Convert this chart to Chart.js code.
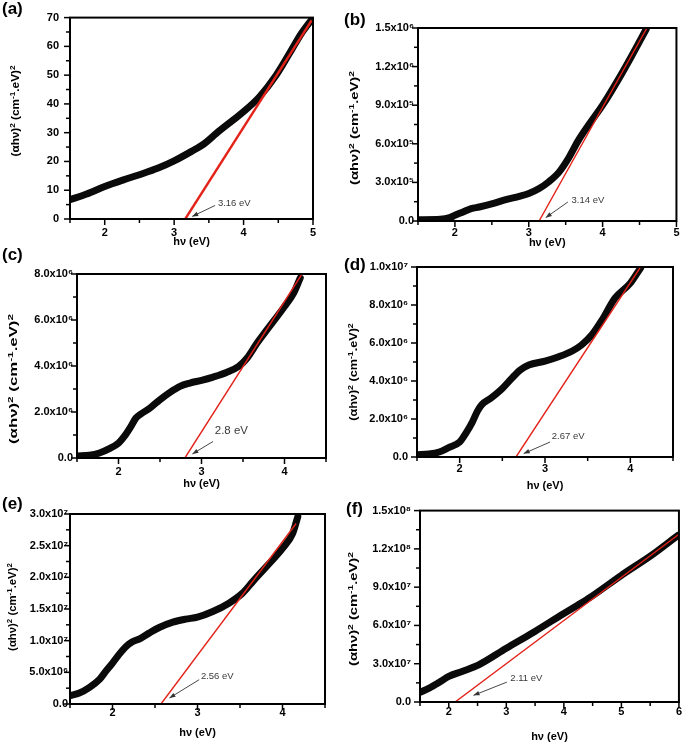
<!DOCTYPE html>
<html>
<head>
<meta charset="utf-8">
<script src="https://cdn.jsdelivr.net/npm/chart.js@4.4.0/dist/chart.umd.min.js"></script>
<style>
  html, body { margin: 0; padding: 0; background: #fff; }
  body { width: 685px; height: 742px; position: relative; overflow: hidden;
         font-family: "Liberation Sans", Arial, sans-serif; }
  canvas { position: absolute; }
  .letter { position: absolute; font-weight: bold; font-size: 17px; line-height: 17px; color: #000; }
  .ytitle { position: absolute; font-weight: bold; font-size: 10.5px; white-space: nowrap; color: #000; line-height: 12px; }
  .ytitle sup { font-size: 70%; vertical-align: 0.5em; line-height: 0; }
</style>
</head>
<body>
<canvas id="ca"></canvas><canvas id="cb"></canvas>
<canvas id="cc"></canvas><canvas id="cd"></canvas>
<canvas id="ce"></canvas><canvas id="cf"></canvas>
<script>
// ---------- DATA ----------
// (a)
const aCurveX = [1.5, 1.74, 2.0, 2.27, 2.5, 2.77, 3.0, 3.25, 3.44, 3.61, 3.85, 4.0, 4.23, 4.47, 4.66, 4.83, 4.99];
const aCurveY = [6.7, 8.7, 11.3, 13.6, 15.4, 17.7, 20.2, 23.5, 26.3, 29.8, 34.4, 37.3, 42.5, 50, 57.5, 64.4, 69.6];
const aFitX = [3.16, 4.98];
const aFitY = [0, 69];
const aXTicks = [2, 3, 4, 5];
const aXLabels = ['2', '3', '4', '5'];
const aYTicks = [0, 10, 20, 30, 40, 50, 60, 70];
const aYLabels = ['0', '10', '20', '30', '40', '50', '60', '70'];
const aGapText = '3.16 eV';

// (b)
const bCurveX = [1.5, 1.8, 1.93, 2.0, 2.11, 2.22, 2.33, 2.51, 2.69, 2.87, 3.0, 3.14, 3.27, 3.41, 3.54, 3.67, 3.81, 4.0, 4.21, 4.39, 4.59];
const bCurveY = [0.01e6, 0.013e6, 0.026e6, 0.044e6, 0.07e6, 0.096e6, 0.109e6, 0.135e6, 0.166e6, 0.192e6, 0.213e6, 0.252e6, 0.304e6, 0.38e6, 0.49e6, 0.625e6, 0.746e6, 0.90e6, 1.097e6, 1.279e6, 1.49e6];
const bFitX = [3.14, 4.60];
const bFitY = [0, 1.5e6];
const bXTicks = [2, 3, 4, 5];
const bXLabels = ['2', '3', '4', '5'];
const bYTicks = [0, 3e5, 6e5, 9e5, 1.2e6, 1.5e6];
const bYLabels = ['0.0', '3.0x10⁵', '6.0x10⁵', '9.0x10⁵', '1.2x10⁶', '1.5x10⁶'];
const bGapText = '3.14 eV';

// (c)
const cCurveX = [1.5, 1.65, 1.77, 1.89, 2.0, 2.07, 2.15, 2.21, 2.27, 2.38, 2.5, 2.62, 2.74, 2.86, 3.0, 3.14, 3.3, 3.45, 3.55, 3.67, 3.79, 4.0, 4.11, 4.19];
const cCurveY = [0.087e6, 0.116e6, 0.217e6, 0.406e6, 0.652e6, 0.94e6, 1.377e6, 1.739e6, 1.913e6, 2.174e6, 2.536e6, 2.855e6, 3.116e6, 3.26e6, 3.377e6, 3.52e6, 3.72e6, 3.99e6, 4.35e6, 5.0e6, 5.58e6, 6.59e6, 7.17e6, 7.83e6];
const cFitX = [2.8, 4.21];
const cFitY = [0, 8e6];
const cXTicks = [2, 3, 4];
const cXLabels = ['2', '3', '4'];
const cYTicks = [0, 2e6, 4e6, 6e6, 8e6];
const cYLabels = ['0.0', '2.0x10⁶', '4.0x10⁶', '6.0x10⁶', '8.0x10⁶'];
const cGapText = '2.8 eV';

// (d)
const dCurveX = [1.5, 1.64, 1.76, 1.87, 2.0, 2.07, 2.15, 2.21, 2.26, 2.36, 2.5, 2.61, 2.71, 2.81, 3.0, 3.16, 3.32, 3.43, 3.55, 3.67, 3.82, 4.0, 4.12];
const dCurveY = [0.123e6, 0.158e6, 0.264e6, 0.49e6, 0.79e6, 1.23e6, 1.85e6, 2.43e6, 2.76e6, 3.08e6, 3.61e6, 4.14e6, 4.58e6, 4.84e6, 5.05e6, 5.28e6, 5.58e6, 5.9e6, 6.43e6, 7.22e6, 8.36e6, 9.15e6, 9.95e6];
const dFitX = [2.66, 4.12];
const dFitY = [0, 1e7];
const dXTicks = [2, 3, 4];
const dXLabels = ['2', '3', '4'];
const dYTicks = [0, 2e6, 4e6, 6e6, 8e6, 1e7];
const dYLabels = ['0.0', '2.0x10⁶', '4.0x10⁶', '6.0x10⁶', '8.0x10⁶', '1.0x10⁷'];
const dGapText = '2.67 eV';

// (e)
const eCurveX = [1.5, 1.61, 1.73, 1.85, 1.92, 2.0, 2.08, 2.16, 2.22, 2.32, 2.43, 2.55, 2.71, 2.86, 3.0, 3.18, 3.37, 3.53, 3.65, 3.81, 4.0, 4.12, 4.18];
const eCurveY = [0.131e7, 0.173e7, 0.263e7, 0.394e7, 0.515e7, 0.646e7, 0.788e7, 0.909e7, 0.972e7, 1.03e7, 1.119e7, 1.208e7, 1.292e7, 1.34e7, 1.371e7, 1.46e7, 1.592e7, 1.75e7, 1.933e7, 2.17e7, 2.459e7, 2.695e7, 2.958e7];
const eFitX = [2.57, 4.16];
const eFitY = [0, 2.85e7];
const eXTicks = [2, 3, 4];
const eXLabels = ['2', '3', '4'];
const eYTicks = [0, 5e6, 1e7, 1.5e7, 2e7, 2.5e7, 3e7];
const eYLabels = ['0.0', '5.0x10⁶', '1.0x10⁷', '1.5x10⁷', '2.0x10⁷', '2.5x10⁷', '3.0x10⁷'];
const eGapText = '2.56 eV';

// (f)
const fCurveX = [1.5, 1.66, 1.83, 2.0, 2.23, 2.52, 3.0, 3.49, 4.0, 4.24, 4.47, 5.0, 5.52, 5.98];
const fCurveY = [0.75e7, 1.09e7, 1.53e7, 2.0e7, 2.39e7, 2.91e7, 4.21e7, 5.51e7, 6.94e7, 7.59e7, 8.24e7, 9.93e7, 11.49e7, 13.05e7];
const fFitX = [2.11, 6.0];
const fFitY = [0, 13.15e7];
const fXTicks = [2, 3, 4, 5, 6];
const fXLabels = ['2', '3', '4', '5', '6'];
const fYTicks = [0, 3e7, 6e7, 9e7, 1.2e8, 1.5e8];
const fYLabels = ['0.0', '3.0x10⁷', '6.0x10⁷', '9.0x10⁷', '1.2x10⁸', '1.5x10⁸'];
const fGapText = '2.11 eV';

const xTitleText = 'hν (eV)';

// ---------- LAYOUT / STYLE (per panel) ----------
const FONT = '"Liberation Sans", Arial, sans-serif';
const panels = [
  { id: 'ca', letter: '(a)', box: [0, 0, 342, 250], pad: {left: 0, top: 17, right: 29, bottom: 1}, wy: 70, hx: 30, xpad: 7, ypad: 11, tpb: 0,
    xr: [1.5, 5, 0.5], yr: [0, 70, 5], cx: aCurveX, cy: aCurveY, fx: aFitX, fy: aFitY,
    xt: aXTicks, xl: aXLabels, yt: aYTicks, yl: aYLabels, redW: 2.4, lpos: [2, 0], ypos: [15, 111], ystretch: 1.12,
    note: {text: aGapText, size: 9.5, t: [3.63, 5.5], a: [3.59, 4.7], b: [3.26, 0.9]} },
  { id: 'cb', letter: '(b)', box: [342, 0, 343, 250], pad: {left: 0, top: 28, right: 6, bottom: 0}, wy: 76, hx: 29, xpad: 5.5, ypad: 4, tpb: 0,
    xr: [1.5, 5, 0.5], yr: [0, 1.5e6, 1.5e5], cx: bCurveX, cy: bCurveY, fx: bFitX, fy: bFitY,
    xt: bXTicks, xl: bXLabels, yt: bYTicks, yl: bYLabels, redW: 1.4, lpos: [344, 11], ypos: [354, 128], ystretch: 1.4,
    note: {text: bGapText, size: 9.5, t: [3.58, 0.161e6], a: [3.53, 0.148e6], b: [3.23, 0.026e6]} },
  { id: 'cc', letter: '(c)', box: [0, 250, 342, 245], pad: {left: 0, top: 24, right: 16, bottom: 4}, wy: 77, hx: 33, xpad: 7.5, ypad: 4, tpb: 0,
    xr: [1.5, 4.5, 0.5], yr: [0, 8e6, 1e6], cx: cCurveX, cy: cCurveY, fx: cFitX, fy: cFitY,
    xt: cXTicks, xl: cXLabels, yt: cYTicks, yl: cYLabels, redW: 1.4, lpos: [2, 246], ypos: [13, 379], ystretch: 1.6,
    note: {text: cGapText, size: 11.5, t: [3.16, 1.16e6], a: [3.14, 0.72e6], b: [2.89, 0.174e6]} },
  { id: 'cd', letter: '(d)', box: [342, 250, 343, 245], pad: {left: 0, top: 17, right: 12, bottom: 3}, wy: 75, hx: 35, xpad: 5.5, ypad: 9, tpb: -1,
    xr: [1.5, 4.5, 0.5], yr: [0, 1e7, 1e6], cx: dCurveX, cy: dCurveY, fx: dFitX, fy: dFitY,
    xt: dXTicks, xl: dXLabels, yt: dYTicks, yl: dYLabels, redW: 1.4, lpos: [344, 256], ypos: [353, 372], ystretch: 1.2,
    note: {text: dGapText, size: 9.5, t: [3.08, 1.06e6], a: [3.06, 0.79e6], b: [2.75, 0.18e6]} },
  { id: 'ce', letter: '(e)', box: [0, 495, 342, 247], pad: {left: 0, top: 19, right: 17, bottom: 2}, wy: 70, hx: 36, xpad: 2.5, ypad: 2, tpb: 0,
    xr: [1.5, 4.5, 0.5], yr: [0, 3e7, 2.5e6], cx: eCurveX, cy: eCurveY, fx: eFitX, fy: eFitY,
    xt: eXTicks, xl: eXLabels, yt: eYTicks, yl: eYLabels, redW: 1.4, lpos: [2, 495], ypos: [12, 607], ystretch: 1.08,
    note: {text: eGapText, size: 9.5, t: [3.04, 4.36e6], a: [3.02, 3.84e6], b: [2.67, 0.95e6]} },
  { id: 'cf', letter: '(f)', box: [342, 495, 343, 247], pad: {left: 0, top: 15, right: 3, bottom: 0}, wy: 78, hx: 40, xpad: 3, ypad: 9, tpb: -2,
    xr: [1.5, 6, 0.5], yr: [0, 1.5e8, 1.5e7], cx: fCurveX, cy: fCurveY, fx: fFitX, fy: fFitY,
    xt: fXTicks, xl: fXLabels, yt: fYTicks, yl: fYLabels, redW: 1.4, lpos: [346, 500], ypos: [353, 609], ystretch: 1.4,
    note: {text: fGapText, size: 9.5, t: [3.07, 1.87e7], a: [3.01, 1.56e7], b: [2.43, 0.52e7]} }
];

function isMajor(list, v, step) {
  return list.findIndex(t => Math.abs(t - v) < step * 1e-6);
}

const decor = {
  id: 'decor',
  afterDraw(chart, args, o) {
    const ctx = chart.ctx, a = chart.chartArea, xs = chart.scales.x, ys = chart.scales.y;
    ctx.save();
    ctx.strokeStyle = '#000';
    ctx.lineWidth = 1.5;
    xs.ticks.forEach(t => {
      const major = isMajor(o.xt, t.value, o.xstep) >= 0;
      const px = xs.getPixelForValue(t.value);
      ctx.beginPath(); ctx.moveTo(px, a.bottom); ctx.lineTo(px, a.bottom + (major ? 6 : 4)); ctx.stroke();
    });
    ys.ticks.forEach(t => {
      const major = isMajor(o.yt, t.value, o.ystep) >= 0;
      const py = ys.getPixelForValue(t.value);
      ctx.beginPath(); ctx.moveTo(a.left, py); ctx.lineTo(a.left - (major ? 6 : 4), py); ctx.stroke();
    });
    ctx.lineWidth = 2;
    ctx.strokeRect(a.left, a.top, a.right - a.left, a.bottom - a.top);
    // band gap annotation
    const n = o.note;
    const ax = xs.getPixelForValue(n.a[0]), ay = ys.getPixelForValue(n.a[1]);
    const bx = xs.getPixelForValue(n.b[0]), by = ys.getPixelForValue(n.b[1]);
    ctx.strokeStyle = '#333'; ctx.fillStyle = '#333'; ctx.lineWidth = 0.9;
    ctx.beginPath(); ctx.moveTo(ax, ay); ctx.lineTo(bx, by); ctx.stroke();
    const ang = Math.atan2(by - ay, bx - ax), L = 6, W = 2.3;
    ctx.beginPath();
    ctx.moveTo(bx, by);
    ctx.lineTo(bx - L * Math.cos(ang) + W * Math.sin(ang), by - L * Math.sin(ang) - W * Math.cos(ang));
    ctx.lineTo(bx - L * Math.cos(ang) - W * Math.sin(ang), by - L * Math.sin(ang) + W * Math.cos(ang));
    ctx.closePath(); ctx.fill();
    ctx.fillStyle = '#3a3a3a';
    ctx.font = n.size + 'px ' + FONT;
    ctx.textAlign = 'left'; ctx.textBaseline = 'middle';
    ctx.fillText(n.text, xs.getPixelForValue(n.t[0]), ys.getPixelForValue(n.t[1]));
    ctx.restore();
  }
};

panels.forEach(p => {
  const cv = document.getElementById(p.id);
  cv.width = p.box[2]; cv.height = p.box[3];
  cv.style.left = p.box[0] + 'px'; cv.style.top = p.box[1] + 'px';
  cv.style.width = p.box[2] + 'px'; cv.style.height = p.box[3] + 'px';

  const lt = document.createElement('div');
  lt.className = 'letter'; lt.textContent = p.letter;
  lt.style.left = p.lpos[0] + 'px'; lt.style.top = p.lpos[1] + 'px';
  document.body.appendChild(lt);

  const yt = document.createElement('div');
  yt.className = 'ytitle';
  yt.innerHTML = '(αhν)<sup>2</sup> (cm<sup>-1</sup>.eV)<sup>2</sup>';
  yt.style.left = p.ypos[0] + 'px'; yt.style.top = p.ypos[1] + 'px';
  yt.style.transform = 'translate(-50%, -50%) rotate(-90deg) scaleX(' + p.ystretch + ')';
  document.body.appendChild(yt);

  const tickFont = {family: FONT, size: 11, weight: 'bold'};
  new Chart(cv, {
    type: 'line',
    data: {
      datasets: [
        { data: p.fx.map((x, i) => ({x, y: p.fy[i]})), borderColor: '#e32219', borderWidth: p.redW,
          pointRadius: 0, tension: 0, fill: false },
        { data: p.cx.map((x, i) => ({x, y: p.cy[i]})), borderColor: '#0a0a0a', borderWidth: 7,
          pointRadius: 0, cubicInterpolationMode: 'monotone', borderCapStyle: 'round', borderJoinStyle: 'round', fill: false }
      ]
    },
    options: {
      responsive: false, animation: false, devicePixelRatio: 1,
      layout: { padding: p.pad },
      plugins: { legend: {display: false}, tooltip: {enabled: false},
        decor: { xt: p.xt, yt: p.yt, xstep: p.xr[2], ystep: p.yr[2], note: p.note } },
      scales: {
        x: {
          type: 'linear', position: 'bottom', min: p.xr[0], max: p.xr[1],
          grid: {display: false, drawTicks: false}, border: {display: false},
          ticks: { stepSize: p.xr[2], autoSkip: false, maxRotation: 0, padding: p.xpad, color: '#000', font: tickFont,
            callback: v => { const i = isMajor(p.xt, v, p.xr[2]); return i >= 0 ? p.xl[i] : ''; } },
          title: { display: true, text: xTitleText, color: '#000', padding: {top: 0, bottom: p.tpb},
            font: {family: FONT, size: 11, weight: 'bold'} },
          afterFit: s => { s.height = p.hx; }
        },
        y: {
          type: 'linear', position: 'left', min: p.yr[0], max: p.yr[1],
          grid: {display: false, drawTicks: false}, border: {display: false},
          ticks: { stepSize: p.yr[2], autoSkip: false, padding: p.ypad, color: '#000', font: tickFont,
            callback: v => { const i = isMajor(p.yt, v, p.yr[2]); return i >= 0 ? p.yl[i] : ''; } },
          afterFit: s => { s.width = p.wy; }
        }
      }
    },
    plugins: [decor]
  });
});
</script>
</body>
</html>
